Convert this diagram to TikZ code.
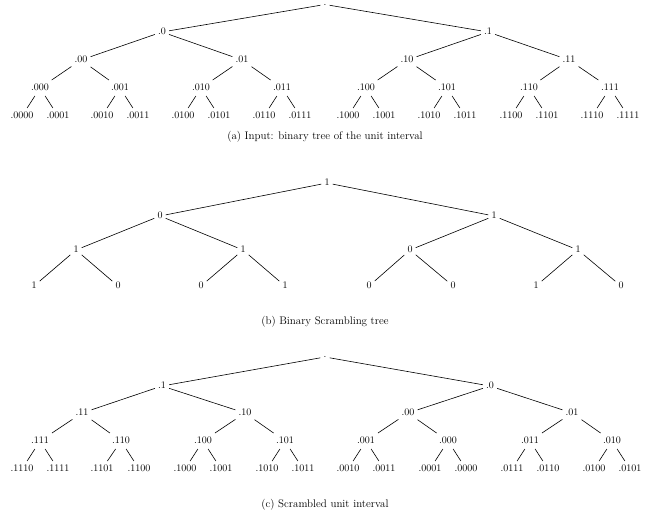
\documentclass[tikz,border=0pt]{standalone}

\tikzset{
  bit/.style={inner xsep=3pt, inner ysep=4pt, text height=1.5ex, text depth=.25ex},
  dotroot/.style={inner xsep=3pt, inner ysep=1.5pt},
  edge/.style={line width=0.6pt},
  capt/.style={font=\fontsize{11}{13}\selectfont}
}

\begin{document}
\begin{tikzpicture}[x=1pt,y=-1pt]
\useasboundingbox (0,0) rectangle (650,518);

% (a) input tree
\node[dotroot] (a) at (325,4.5) {.};
\foreach \n/\x in {0/162,1/488} \node[bit] (a\n) at (\x,32) {.\n};
\foreach \n/\x in {00/81,01/242,10/407,11/569} \node[bit] (a\n) at (\x,60) {.\n};
\foreach \n/\x in {000/40,001/120,010/201,011/282,100/366,101/447,110/529,111/610}
  \node[bit] (a\n) at (\x,88) {.\n};
\foreach \n/\x in {0000/22,0001/58,0010/102,0011/138,0100/183,0101/219,0110/264,0111/300,
                   1000/348,1001/384,1010/429,1011/465,1100/511,1101/547,1110/592,1111/628}
  \node[bit] (a\n) at (\x,116) {.\n};
\foreach \c in {0,1} \draw[edge] (a) -- (a\c);
\foreach \p in {0,1,00,01,10,11,000,001,010,011,100,101,110,111} {
  \draw[edge] (a\p) -- (a\p0);
  \draw[edge] (a\p) -- (a\p1);
}
\node[capt] (capa) at (325,137) {(a) Input: binary tree of the unit interval};

% (b) scrambling tree
\node[bit] (b) at (327,183) {1};
\foreach \n/\x/\l in {0/160/0,1/494/1} \node[bit] (b\n) at (\x,216) {\l};
\foreach \n/\x/\l in {00/76/1,01/243/1,10/410/0,11/578/1} \node[bit] (b\n) at (\x,250) {\l};
\foreach \n/\x/\l in {000/34/1,001/118/0,010/201/0,011/285/1,100/369/0,101/453/0,110/536/1,111/621/0}
  \node[bit] (b\n) at (\x,286) {\l};
\foreach \c in {0,1} \draw[edge] (b) -- (b\c);
\foreach \p in {0,1,00,01,10,11} {
  \draw[edge] (b\p) -- (b\p0);
  \draw[edge] (b\p) -- (b\p1);
}
\node[capt] (capb) at (325,322) {(b) Binary Scrambling tree};

% (c) scrambled tree
\node[dotroot] (c) at (325,357) {.};
\foreach \n/\x/\l in {0/162/1,1/490/0} \node[bit] (c\n) at (\x,386) {.\l};
\foreach \n/\x/\l in {00/82/11,01/245/10,10/408/00,11/572/01} \node[bit] (c\n) at (\x,413) {.\l};
\foreach \n/\x/\l in {000/40/111,001/121/110,010/203/100,011/285/101,100/366/001,101/448/000,110/530/011,111/612/010}
  \node[bit] (c\n) at (\x,441) {.\l};
\foreach \n/\x/\l in {0000/22/1110,0001/58/1111,0010/102/1101,0011/139/1100,
                      0100/185/1000,0101/221/1001,0110/267/1010,0111/303/1011,
                      1000/348/0010,1001/384/0011,1010/430/0001,1011/466/0000,
                      1100/512/0111,1101/548/0110,1110/594/0100,1111/630/0101}
  \node[bit] (c\n) at (\x,469) {.\l};
\foreach \c in {0,1} \draw[edge] (c) -- (c\c);
\foreach \p in {0,1,00,01,10,11,000,001,010,011,100,101,110,111} {
  \draw[edge] (c\p) -- (c\p0);
  \draw[edge] (c\p) -- (c\p1);
}
\node[capt] (capc) at (325,505) {(c) Scrambled unit interval};
\end{tikzpicture}
\end{document}
